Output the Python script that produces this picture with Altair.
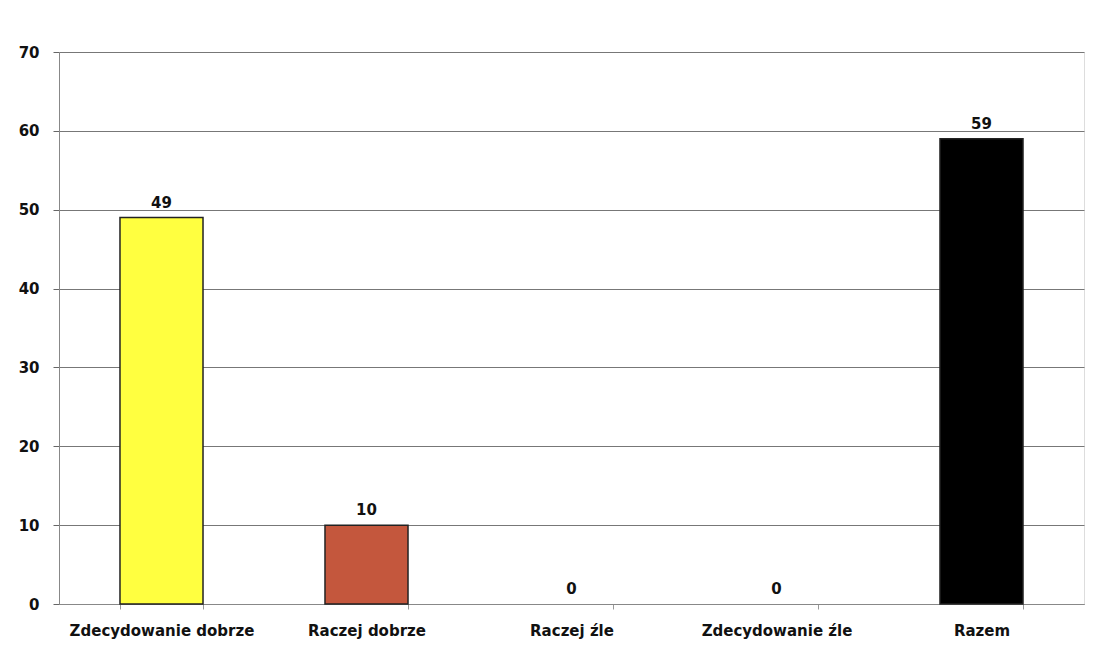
import altair as alt
import pandas as pd

categories = ["Zdecydowanie dobrze", "Raczej dobrze", "Raczej źle", "Zdecydowanie źle", "Razem"]
values = [49, 10, 0, 0, 59]
colors = ["#FFFF40", "#C4573D", "#888888", "#888888", "#000000"]
y_ticks = [0, 10, 20, 30, 40, 50, 60, 70]

df = pd.DataFrame({"kategoria": categories, "wartosc": values, "kolor": colors})

FONT = "DejaVu Sans"

x_enc = alt.X("kategoria:N", sort=categories, title=None,
              scale=alt.Scale(paddingInner=0.595, paddingOuter=0.2975),
              axis=alt.Axis(labelAngle=0, labelFont=FONT, labelFontSize=15, labelFontWeight="bold",
                            labelColor="#111111", labelPadding=14, labelLimit=400, tickBand="extent",
                            tickSize=5, tickColor="#999999", domainColor="#888888", grid=False))
y_enc = alt.Y("wartosc:Q", title=None,
              scale=alt.Scale(domain=[0, 70], nice=False),
              axis=alt.Axis(values=y_ticks, labelFont=FONT, labelFontSize=15, labelFontWeight="bold",
                            labelColor="#111111", labelPadding=14, tickSize=6, tickColor="#666666",
                            domainColor="#888888", gridColor="#777777", gridWidth=1))

bars = alt.Chart(df).transform_filter("datum.wartosc > 0").mark_bar(stroke="#222222", strokeWidth=1.5).encode(
    x=x_enc, y=y_enc,
    color=alt.Color("kolor:N", scale=None),
)

labels = alt.Chart(df).mark_text(dy=-15, font=FONT, fontSize=15, fontWeight="bold", color="#111111").encode(
    x=alt.X("kategoria:N", sort=categories),
    y="wartosc:Q",
    text="wartosc:Q",
)

chart = (bars + labels).properties(
    width=1025, height=552,
    padding={"left": 10, "top": 37, "right": 5, "bottom": 5},
).configure_view(stroke="#bbbbbb", strokeWidth=1).configure(background="white")

chart.save("out.html", embed_options={"renderer": "svg", "actions": False})
